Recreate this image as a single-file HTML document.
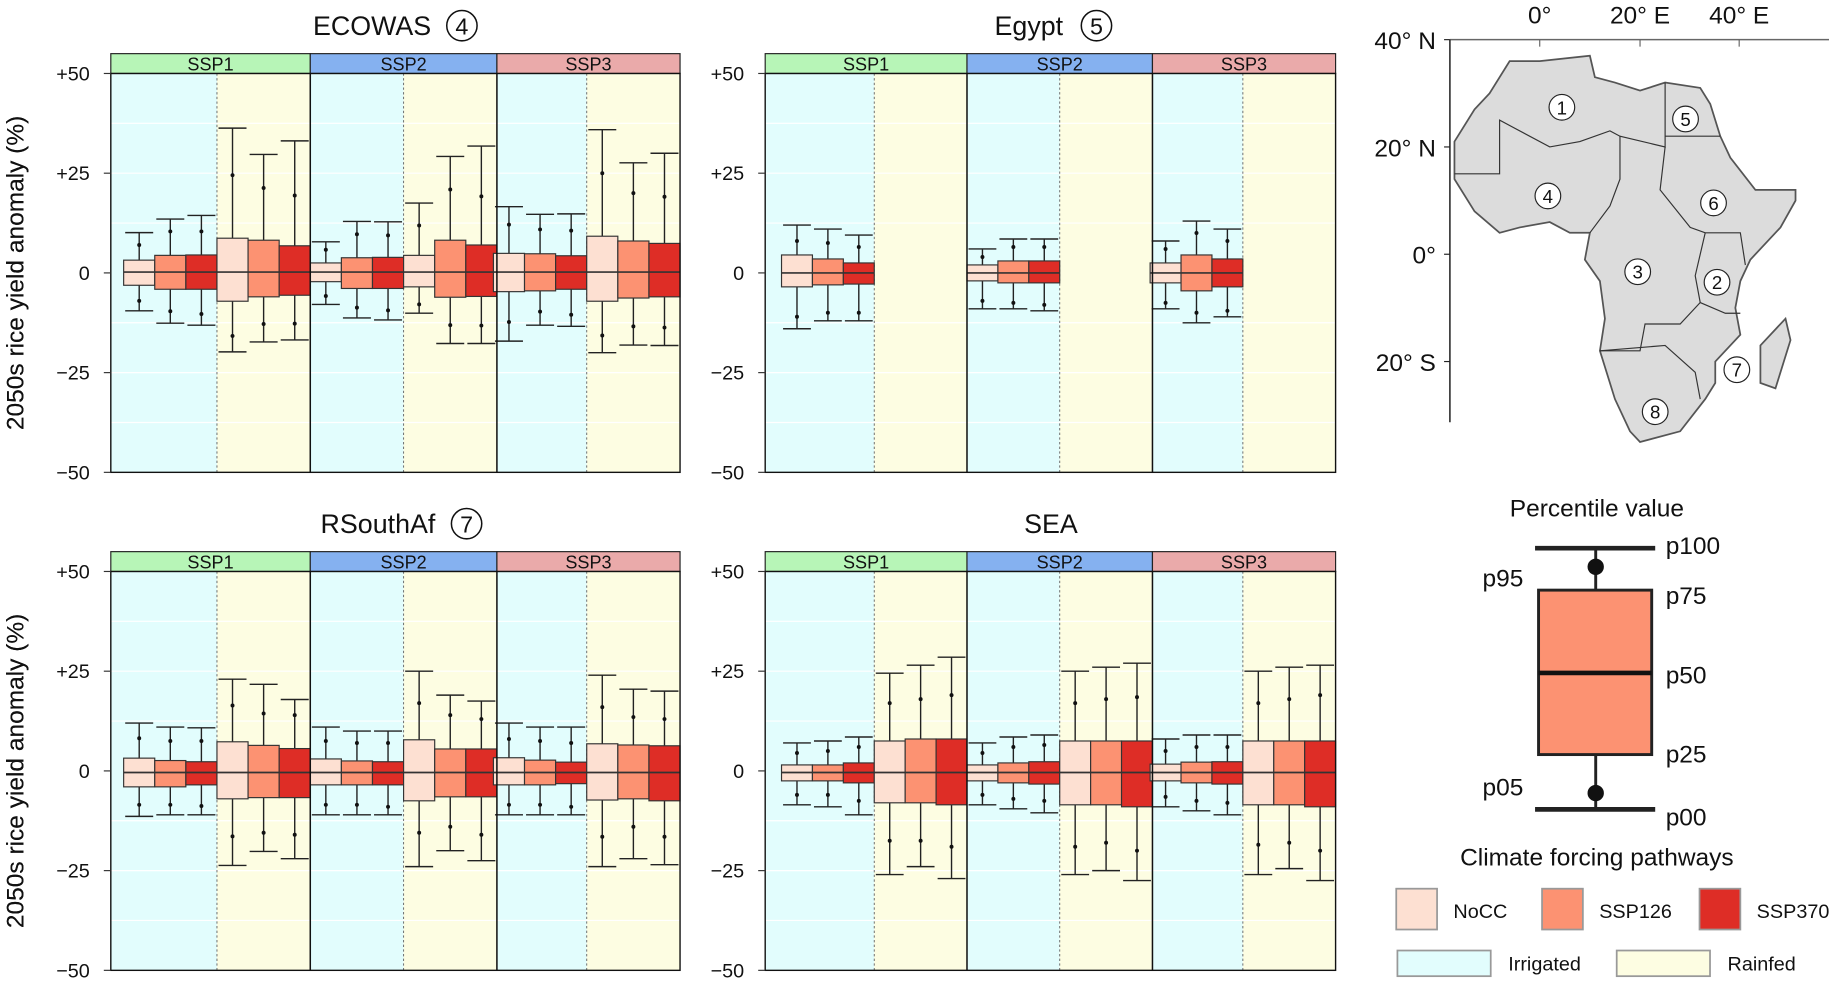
<!DOCTYPE html>
<html><head><meta charset="utf-8"><style>
html,body{margin:0;padding:0;background:#fff}
svg{display:block}
text{font-family:"Liberation Sans","DejaVu Sans",sans-serif;fill:#111}
</style></head><body>
<svg id="s" width="1829" height="982" viewBox="0 0 1568 842" preserveAspectRatio="none" xmlns="http://www.w3.org/2000/svg"></svg>
<script>
const S=document.getElementById('s');let h='';
const C=['#fde0d2','#fc9272','#de2d26'];
function panel(title,num,tx,cxn,x0,x1,b1,b2,top,data,med){
  const st=top, pt=top+17, pb=pt+342, y0=(pt+pb)/2, k=(pb-pt)/100;
  const Y=v=>y0-v*k;
  const facets=[[x0,b1],[b1,b2],[b2,x1]];
  const bw=(b2-b1)/6;
  const scol=['#b7f5b7','#85b1f0','#eaaaaa'],sn=['SSP1','SSP2','SSP3'];
  facets.forEach((f,i)=>{
    const st0=f[1]-6*bw, mid=st0+3*bw;
    h+=`<rect x="${f[0]}" y="${pt}" width="${mid-f[0]}" height="${pb-pt}" fill="#e2fdfd"/>`;
    h+=`<rect x="${mid}" y="${pt}" width="${f[1]-mid}" height="${pb-pt}" fill="#fdfde2"/>`;
    [12.5,25,37.5,-12.5,-25,-37.5].forEach(v=>h+=`<line x1="${f[0]}" x2="${f[1]}" y1="${Y(v)}" y2="${Y(v)}" stroke="#fff" stroke-width="1"/>`);
    h+=`<line x1="${mid}" x2="${mid}" y1="${pt}" y2="${pb}" stroke="#666" stroke-width="0.8" stroke-dasharray="2,2"/>`;
    h+=`<rect x="${f[0]}" y="${st}" width="${f[1]-f[0]}" height="17" fill="${scol[i]}" stroke="#222" stroke-width="1"/>`;
    h+=`<text x="${(f[0]+f[1])/2}" y="${st+14.5}" font-size="15.5" text-anchor="middle">${sn[i]}</text>`;
    const d=data[i];
    d.forEach((b,j)=>{
      if(!b)return;
      const bx=st0+j*bw, cx=bx+bw/2;
      const [mx,p95,p75,p25,p05,mn]=b;
      h+=`<line x1="${cx}" x2="${cx}" y1="${Y(mx)}" y2="${Y(mn)}" stroke="#222" stroke-width="1.2"/>`;
      h+=`<line x1="${cx-bw*0.45}" x2="${cx+bw*0.45}" y1="${Y(mx)}" y2="${Y(mx)}" stroke="#222" stroke-width="1.2"/>`;
      h+=`<line x1="${cx-bw*0.45}" x2="${cx+bw*0.45}" y1="${Y(mn)}" y2="${Y(mn)}" stroke="#222" stroke-width="1.2"/>`;
      h+=`<circle cx="${cx}" cy="${Y(p95)}" r="1.7" fill="#111"/><circle cx="${cx}" cy="${Y(p05)}" r="1.7" fill="#111"/>`;
      h+=`<rect x="${bx}" y="${Y(p75)}" width="${bw}" height="${Y(p25)-Y(p75)}" fill="${C[j%3]}" stroke="#333" stroke-width="1"/>`;
      h+=`<line x1="${bx}" x2="${bx+bw}" y1="${Y(med)}" y2="${Y(med)}" stroke="#333" stroke-width="1.4"/>`;
    });
  });
  [b1,b2].forEach(b=>h+=`<line x1="${b}" x2="${b}" y1="${pt}" y2="${pb}" stroke="#111" stroke-width="1.3"/>`);
  h+=`<rect x="${x0}" y="${pt}" width="${x1-x0}" height="${pb-pt}" fill="none" stroke="#111" stroke-width="1.2"/>`;
  [50,25,0,-25,-50].forEach(v=>{
    h+=`<line x1="${x0-6}" x2="${x0}" y1="${Y(v)}" y2="${Y(v)}" stroke="#333"/>`;
    const t=v>0?'+'+v:(v<0?'\u2212'+(-v):'0');
    h+=`<text x="${x0-18}" y="${Y(v)+6}" font-size="17" text-anchor="end">${t}</text>`;
  });
  h+=`<text x="${tx}" y="${top-16}" font-size="23" text-anchor="middle">${title}</text>`;
  if(num){
    h+=`<circle cx="${cxn}" cy="${top-24}" r="13" fill="none" stroke="#111" stroke-width="1.3"/><text x="${cxn}" y="${top-16.5}" font-size="20" text-anchor="middle">${num}</text>`;
  }
  h+=`<text transform="translate(20,${y0}) rotate(-90)" font-size="21" text-anchor="middle">2050s rice yield anomaly (%)</text>`;
}
const E=[[[10.1,7,3.2,-3.1,-7,-9.5],[13.5,10.4,4.4,-4.1,-9.6,-12.6],[14.4,10.4,4.5,-4.1,-10.3,-13.1],[36.3,24.5,8.7,-7.1,-15.8,-19.8],[29.7,21.3,8.2,-6,-12.8,-17.3],[33.1,19.4,6.8,-5.6,-12.7,-16.8]],
[[7.8,5.8,2.5,-2.2,-5.8,-7.9],[12.9,9.7,3.8,-3.9,-8.7,-11.3],[12.8,9.4,3.9,-3.9,-9.4,-11.8],[17.5,11.9,4.4,-3.5,-7.9,-10.1],[29.2,20.9,8.2,-6.1,-13.1,-17.7],[31.8,19.2,7,-5.9,-13.2,-17.7]],
[[16.6,12.1,4.9,-4.7,-12.3,-17.1],[14.7,10.9,4.8,-4.5,-9.7,-13.1],[14.8,10.6,4.3,-4.1,-10.5,-13.4],[35.9,25,9.2,-7.1,-15.7,-20],[27.6,20,8,-6.3,-13.4,-18.1],[30,19.1,7.4,-6,-13.7,-18.2]]];
const G=[[[12,8,4.5,-3.5,-11,-14],[11,7.5,3.5,-3,-10,-12],[9.5,6.5,2.5,-2.8,-10,-12]],
[[6,4,2,-2,-7,-9],[8.5,6.5,3,-2.5,-7.5,-9],[8.5,6.5,3,-2.5,-8,-9.5]],
[[8,6,2.5,-2.5,-7.5,-9],[13,10,4.5,-4.5,-10,-12.5],[11,8,3.5,-3.5,-9.5,-11]]];
const R=[[[12,8.2,3.2,-4,-8.5,-11.4],[11,7.5,2.6,-4,-8.5,-11],[10.8,7.5,2.3,-3.5,-8.8,-11],[23,16.4,7.3,-7,-16.4,-23.7],[21.7,14.4,6.4,-6.7,-15.5,-20.2],[17.9,14,5.6,-6.7,-16,-22]],
[[11,7.5,3,-3.5,-8.5,-11],[10,7,2.5,-3.5,-8.5,-11],[10,7,2.3,-3.5,-9,-11],[25,17,7.8,-7.5,-15.5,-24],[19,14,5.5,-6.5,-14,-20],[17.5,13,5.5,-6.5,-16,-22.5]],
[[12,8,3.3,-3.5,-8.5,-11],[11,7.5,2.7,-3.5,-8.5,-11],[11,7,2.2,-3.2,-9,-11],[24,16,6.8,-7.3,-16.5,-24],[20.5,13.5,6.5,-7,-14,-22],[20,13,6.3,-7.5,-16.5,-23.5]]];
const A=[[[7,4.5,1.5,-2.5,-6,-8.5],[7.5,5,1.5,-2.5,-6,-9],[8.5,6,2,-3,-7.5,-11],[24.5,17,7.5,-8,-17.5,-26],[26.5,18,8,-8,-17.5,-24],[28.5,19,8,-8.5,-19,-27]],
[[7,4.5,1.5,-2.5,-6,-8.5],[8.5,6,2,-3,-7,-9.5],[9,6.5,2.3,-3.3,-7.5,-10.5],[25,17,7.5,-8.5,-19,-26],[26,18,7.5,-8.5,-18,-25],[27,18.5,7.5,-9,-20,-27.5]],
[[8,5,1.7,-2.5,-6.5,-9],[9,6,2.2,-3,-7.5,-10],[9,6,2.3,-3.3,-8,-11],[25,17,7.5,-8.5,-18.5,-26],[26,18,7.5,-8.5,-18,-24.5],[26.5,19,7.5,-9,-20,-27.5]]];
panel('ECOWAS','4',319,396,95,583,266,426,46,E,0.2);
panel('Egypt','5',882,940,656,1145,829,988,46,G,0);
panel('RSouthAf','7',324,400,95,583,266,426,473,R,-0.4);
panel('SEA',null,901,0,656,1145,829,988,473,A,-0.4);
// map
const P=(lo,la)=>[(1320+lo*4.3).toFixed(1),(218-la*4.6).toFixed(1)].join(',');
const af=[[-6,36],[0,36],[10,37],[11,33],[15,32],[20,30.5],[25,32],[32,31],[34,28],[36,22],[38,18],[43,12],[51,12],[51,10],[48,5],[42,-1],[40,-5],[39,-10],[40,-15],[35,-20],[35,-24],[33,-27],[28,-33],[20,-35],[18,-33],[15,-27],[12,-18],[13,-12],[12,-5],[9,-1],[10,4],[6,4],[2,6],[-4,5],[-8,4],[-13,8],[-17,14],[-17,21],[-13,27],[-10,30]];
h+=`<polygon points="${af.map(p=>P(...p)).join(' ')}" fill="#dcdcdc" stroke="#555" stroke-width="1.5"/>`;
const mg=[[49,-12],[50,-16],[47,-25],[44,-24],[44,-17]];
h+=`<polygon points="${mg.map(p=>P(...p)).join(' ')}" fill="#dcdcdc" stroke="#555" stroke-width="1.5"/>`;
const bl=[[[-17,15],[-8,15],[-8,25],[2,20],[8,21],[14,23],[16,22],[25,20],[25,32]],[[25,22],[36,22]],[[16,22],[16,14],[14,9],[10,4]],[[25,20],[24,12],[30,5],[33,4],[36,4],[40,4],[41,-2]],[[33,4],[31,-4],[32,-9],[37,-11],[40,-11]],[[12,-18],[20,-18],[21,-13],[28,-13],[32,-9]],[[12,-18],[25,-17],[31,-22],[32,-27]]];
bl.forEach(l=>h+=`<polyline points="${l.map(p=>P(...p)).join(' ')}" fill="none" stroke="#333" stroke-width="1"/>`);
[['1',1339,92],['5',1445,102],['4',1327,168],['6',1469,174],['3',1404,233],['2',1472,242],['7',1489,317],['8',1419,353]].forEach(([n,x,y])=>{
 h+=`<circle cx="${x}" cy="${y}" r="11" fill="#fff" stroke="#222"/><text x="${x}" y="${y+6}" font-size="16" text-anchor="middle">${n}</text>`;});
h+=`<line x1="1243" y1="34" x2="1568" y2="34" stroke="#666" stroke-width="1.3"/><line x1="1243" y1="34" x2="1243" y2="362" stroke="#222" stroke-width="1.3"/>`;
[['0°',1320],['20° E',1406],['40° E',1491]].forEach(([t,x])=>{h+=`<line x1="${x}" x2="${x}" y1="34" y2="40" stroke="#666"/><text x="${x}" y="20" font-size="21" text-anchor="middle">${t}</text>`;});
[['40° N',34],['20° N',126],['0°',218],['20° S',310]].forEach(([t,y])=>{h+=`<line x1="1238" x2="1243" y1="${y}" y2="${y}" stroke="#222"/><text x="1231" y="${y+8}" font-size="21" text-anchor="end">${t}</text>`;});
// legend
h+=`<text x="1369" y="443" font-size="21" text-anchor="middle">Percentile value</text>`;
h+=`<line x1="1368" x2="1368" y1="470" y2="694" stroke="#222" stroke-width="2.5"/>`;
h+=`<line x1="1316" x2="1419" y1="470" y2="470" stroke="#222" stroke-width="4"/><line x1="1316" x2="1419" y1="694" y2="694" stroke="#222" stroke-width="4"/>`;
h+=`<circle cx="1368" cy="486" r="7" fill="#111"/><circle cx="1368" cy="680" r="7" fill="#111"/>`;
h+=`<rect x="1319" y="506" width="97" height="141" fill="#fc9272" stroke="#222" stroke-width="2.5"/><line x1="1319" x2="1416" y1="577" y2="577" stroke="#111" stroke-width="4"/>`;
[['p100',467],['p75',510],['p50',578],['p25',646],['p00',700]].forEach(([t,y])=>h+=`<text x="1428" y="${y+8}" font-size="21">${t}</text>`);
h+=`<text x="1306" y="503" font-size="21" text-anchor="end">p95</text><text x="1306" y="682" font-size="21" text-anchor="end">p05</text>`;
h+=`<text x="1369" y="742" font-size="21" text-anchor="middle">Climate forcing pathways</text>`;
[['NoCC',1197,C[0]],['SSP126',1322,C[1]],['SSP370',1457,C[2]]].forEach(([t,x,c])=>{h+=`<rect x="${x}" y="762" width="35" height="35" fill="${c}" stroke="#999" stroke-width="1.5"/><text x="${x+49}" y="787" font-size="17">${t}</text>`;});
h+=`<rect x="1198" y="815" width="80" height="22" fill="#e2fdfd" stroke="#999" stroke-width="1.5"/><text x="1293" y="832" font-size="17">Irrigated</text>`;
h+=`<rect x="1386" y="815" width="80" height="22" fill="#fdfde2" stroke="#999" stroke-width="1.5"/><text x="1481" y="832" font-size="17">Rainfed</text>`;
S.innerHTML=h;
</script>
</body></html>
